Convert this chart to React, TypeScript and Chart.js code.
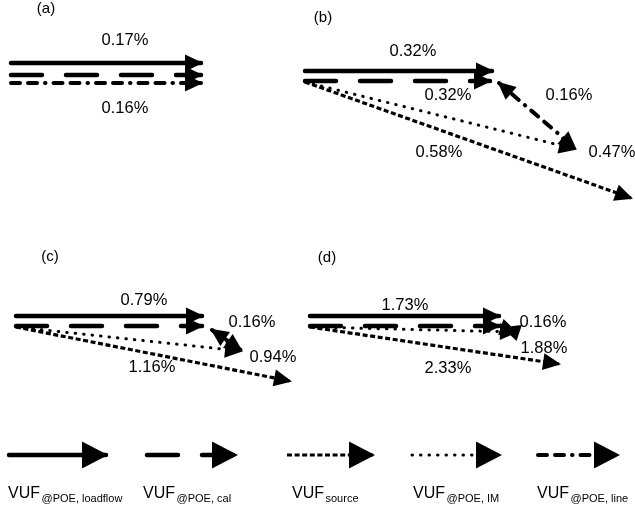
import React, { useEffect, useRef } from "react";
import { Chart, registerables } from "chart.js";

Chart.register(...registerables);

const W = 635;
const H = 511;

// Phasor arrows per panel: [series, x0, y0, x1, y1] (diagram units, y down)
type Arrow = [string, number, number, number, number];

const panelA: Arrow[] = [
  ["loadflow", 11, 63, 201, 63],
  ["cal", 11, 75, 201, 75],
  ["line", 11, 83, 201, 83],
];
const panelB: Arrow[] = [
  ["loadflow", 305, 71, 492, 71],
  ["cal", 305, 81, 490, 81],
  ["im", 305, 82, 575, 149],
  ["source", 305, 82, 631, 198],
  ["line", 499, 83, 575, 148],
];
const panelC: Arrow[] = [
  ["loadflow", 16, 316, 202, 316],
  ["cal", 16, 326, 202, 326],
  ["im", 16, 327, 241, 351],
  ["source", 16, 327, 290, 381],
  ["line", 212, 330, 241, 350],
];
const panelD: Arrow[] = [
  ["loadflow", 310, 316, 499, 316],
  ["cal", 310, 326, 499, 326],
  ["im", 310, 327, 516, 332],
  ["source", 310, 327, 559, 364],
  ["line", 504, 328, 516, 332],
];
const panels = [panelA, panelB, panelC, panelD];
const doubleHeadPanels = [false, true, true, true];

// Percentage labels per panel: [text, x, y]
type Label = [string, number, number];
const labelsA: Label[] = [["0.17%", 125, 40], ["0.16%", 125, 108]];
const labelsB: Label[] = [
  ["0.32%", 413, 51],
  ["0.32%", 448, 95],
  ["0.16%", 569, 95],
  ["0.58%", 439, 152],
  ["0.47%", 612, 152],
];
const labelsC: Label[] = [
  ["0.79%", 144, 300],
  ["0.16%", 252, 322],
  ["0.94%", 273, 357],
  ["1.16%", 152, 367],
];
const labelsD: Label[] = [
  ["1.73%", 405, 305],
  ["0.16%", 543, 322],
  ["1.88%", 544, 348],
  ["2.33%", 448, 368],
];
const valueLabels = [...labelsA, ...labelsB, ...labelsC, ...labelsD];

const panelTitles = ["(a)", "(b)", "(c)", "(d)"];
const panelTitleX = [46, 323, 50, 327];
const panelTitleY = [9, 18, 257, 258];

// Legend
const legendSeries = ["loadflow", "cal", "source", "im", "line"];
const legendMain = ["VUF", "VUF", "VUF", "VUF", "VUF"];
const legendSub = ["@POE, loadflow", "@POE, cal", "source", "@POE, IM", "@POE, line"];
const legendArrowX0 = [9, 147, 287, 412, 538];
const legendArrowX1 = [106, 236, 373, 500, 618];
const legendArrowY = 455;
const legendTextX = [8, 143, 292, 413, 537];
const legendTextY = 498;

const lineStyles: Record<string, { width: number; dash: number[]; cap: CanvasLineCap }> = {
  loadflow: { width: 4.5, dash: [], cap: "round" },
  cal: { width: 4.5, dash: [31, 24], cap: "round" },
  source: { width: 3.2, dash: [5, 2.6], cap: "butt" },
  im: { width: 3, dash: [0.5, 8], cap: "round" },
  line: { width: 4, dash: [9, 8, 9, 8, 0.5, 8], cap: "round" },
};

const FONT = '"Liberation Sans", Arial, Helvetica, sans-serif';

function makeDataset(series: string, x0: number, y0: number, x1: number, y1: number, arrow: any) {
  const st = lineStyles[series];
  return {
    label: series,
    data: [
      { x: x0, y: y0 },
      { x: x1, y: y1 },
    ],
    showLine: true,
    borderColor: "#000",
    backgroundColor: "#000",
    borderWidth: st.width,
    borderDash: st.dash,
    borderCapStyle: st.cap,
    borderJoinStyle: "round",
    pointRadius: 0,
    pointHoverRadius: 0,
    fill: false,
    tension: 0,
    clip: false,
    arrow,
  };
}

function drawHead(ctx: CanvasRenderingContext2D, fx: number, fy: number, tx: number, ty: number, len: number, hw: number) {
  const a = Math.atan2(ty - fy, tx - fx);
  const dx = Math.cos(a);
  const dy = Math.sin(a);
  const tipX = tx + 2 * dx;
  const tipY = ty + 2 * dy;
  const bx = tipX - len * dx;
  const by = tipY - len * dy;
  ctx.beginPath();
  ctx.moveTo(tipX, tipY);
  ctx.lineTo(bx - hw * dy, by + hw * dx);
  ctx.lineTo(bx + hw * dy, by - hw * dx);
  ctx.closePath();
  ctx.fill();
}

const arrowPlugin = {
  id: "arrowHeads",
  afterDatasetsDraw(chart: any) {
    const ctx: CanvasRenderingContext2D = chart.ctx;
    ctx.save();
    ctx.fillStyle = "#000";
    chart.data.datasets.forEach((ds: any, i: number) => {
      const meta = chart.getDatasetMeta(i);
      const p0 = meta.data[0];
      const p1 = meta.data[1];
      if (!p0 || !p1 || !ds.arrow) return;
      const { len, hw, both } = ds.arrow;
      drawHead(ctx, p0.x, p0.y, p1.x, p1.y, len, hw);
      if (both) drawHead(ctx, p1.x, p1.y, p0.x, p0.y, len, hw);
    });
    ctx.restore();
  },
  afterDraw(chart: any) {
    const ctx: CanvasRenderingContext2D = chart.ctx;
    const xs = chart.scales.x;
    const ys = chart.scales.y;
    ctx.save();
    ctx.fillStyle = "#000";
    ctx.textBaseline = "middle";
    ctx.textAlign = "center";
    ctx.font = `16.5px ${FONT}`;
    valueLabels.forEach(([t, x, y]) => {
      ctx.fillText(t, xs.getPixelForValue(x), ys.getPixelForValue(y));
    });
    ctx.font = `15px ${FONT}`;
    panelTitles.forEach((t, i) => {
      ctx.fillText(t, xs.getPixelForValue(panelTitleX[i]), ys.getPixelForValue(panelTitleY[i]));
    });
    ctx.textAlign = "left";
    ctx.textBaseline = "alphabetic";
    legendMain.forEach((m, i) => {
      const x = xs.getPixelForValue(legendTextX[i]);
      const y = ys.getPixelForValue(legendTextY);
      ctx.font = `16px ${FONT}`;
      ctx.fillText(m, x, y);
      const w = ctx.measureText(m).width;
      ctx.font = `11px ${FONT}`;
      ctx.fillText(legendSub[i], x + w + 1.5, y + 4);
    });
    ctx.restore();
  },
};

export default function App() {
  const ref = useRef<HTMLCanvasElement | null>(null);

  useEffect(() => {
    if (!ref.current) return;
    const datasets: any[] = [];
    panels.forEach((arrows, pi) => {
      arrows.forEach(([s, x0, y0, x1, y1]) => {
        datasets.push(
          makeDataset(s, x0, y0, x1, y1, {
            len: 18,
            hw: 8.5,
            both: s === "line" && doubleHeadPanels[pi],
          })
        );
      });
    });
    legendSeries.forEach((s, i) => {
      datasets.push(
        makeDataset(s, legendArrowX0[i], legendArrowY, legendArrowX1[i], legendArrowY, {
          len: 26,
          hw: 13.5,
          both: false,
        })
      );
    });

    const chart = new Chart(ref.current, {
      type: "scatter",
      data: { datasets },
      options: {
        animation: false,
        responsive: false,
        events: [],
        layout: { padding: 0 },
        plugins: {
          legend: { display: false },
          tooltip: { enabled: false },
          title: { display: false },
        },
        scales: {
          x: { type: "linear", min: 0, max: W, display: false },
          y: { type: "linear", min: 0, max: H, reverse: true, display: false },
        },
      } as any,
      plugins: [arrowPlugin],
    });
    return () => chart.destroy();
  }, []);

  return (
    <div style={{ position: "absolute", left: 0, top: 0, width: W, height: H, background: "#fff" }}>
      <canvas ref={ref} width={W} height={H} style={{ width: W, height: H, display: "block" }} />
    </div>
  );
}
